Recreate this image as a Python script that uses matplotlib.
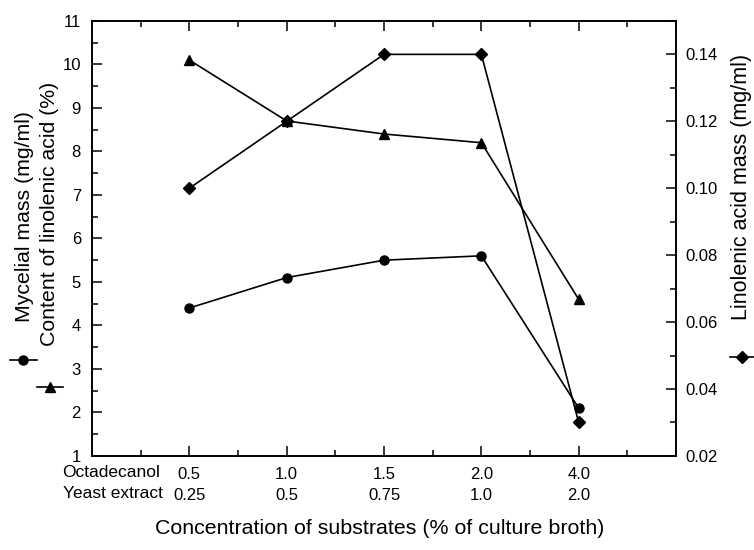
import matplotlib
matplotlib.use("Agg")
import matplotlib.pyplot as plt
from matplotlib.lines import Line2D
from matplotlib.ticker import MultipleLocator

plt.rcParams["font.family"] = ["Liberation Sans", "DejaVu Sans"]

# values
octadecanol = ["0.5", "1.0", "1.5", "2.0", "4.0"]
yeast_extract = ["0.25", "0.5", "0.75", "1.0", "2.0"]
positions = [1, 2, 3, 4, 5]
mycelial_mass = [4.4, 5.1, 5.5, 5.6, 2.1]
linolenic_content = [10.1, 8.7, 8.4, 8.2, 4.6]
linolenic_mass = [0.100, 0.120, 0.140, 0.140, 0.030]
right_ticks = [0.02, 0.04, 0.06, 0.08, 0.10, 0.12, 0.14]

fig = plt.figure(figsize=(7.54, 5.5), dpi=100)
ax = fig.add_axes([0.122, 0.171, 0.7746, 0.791])
ax2 = ax.twinx()

ax.plot(positions, mycelial_mass, color="black", lw=1.2, marker="o", ms=6.5)
ax.plot(positions, linolenic_content, color="black", lw=1.2, marker="^", ms=7)
ax2.plot(positions, linolenic_mass, color="black", lw=1.2, marker="D", ms=6)

ax.set_xlim(0, 6)
ax.set_ylim(1, 11)
ax2.set_ylim(0.02, 0.15)

ax.set_xticks(positions)
ax.set_xticklabels([a + "\n" + b for a, b in zip(octadecanol, yeast_extract)],
                   linespacing=1.5)
ax.xaxis.set_minor_locator(MultipleLocator(0.5))
ax.yaxis.set_major_locator(MultipleLocator(1))
ax.yaxis.set_minor_locator(MultipleLocator(0.5))
ax2.set_yticks(right_ticks)
ax2.set_yticklabels([f"{t:.2f}" for t in right_ticks])
ax2.yaxis.set_minor_locator(MultipleLocator(0.01))

ax.tick_params(axis="x", which="both", direction="in", top=True, labelsize=12, pad=8)
ax.tick_params(axis="y", which="both", direction="in", labelsize=12, pad=8)
ax.tick_params(which="major", length=7, width=1.1)
ax.tick_params(which="minor", length=4, width=1.1)
ax2.tick_params(axis="y", which="both", direction="in", labelsize=12, pad=7)
ax2.tick_params(which="major", length=7, width=1.1)
ax2.tick_params(which="minor", length=4, width=1.1)
for sp in list(ax.spines.values()) + list(ax2.spines.values()):
    sp.set_linewidth(1.2)

# axis titles
fig.text(0.033, 0.606, "Mycelial mass (mg/ml)", rotation=90, ha="center", va="center", fontsize=15.3)
fig.text(0.066, 0.612, "Content of linolenic acid (%)", rotation=90, ha="center", va="center", fontsize=15.3)
fig.text(0.984, 0.66, "Linolenic acid mass (mg/ml)", rotation=90, ha="center", va="center", fontsize=15.5)
fig.text(0.503, 0.04, "Concentration of substrates (% of culture broth)", ha="center", va="center", fontsize=15.4)
fig.text(0.083, 0.141, "Octadecanol", ha="left", va="center", fontsize=12.5)
fig.text(0.083, 0.103, "Yeast extract", ha="left", va="center", fontsize=12.5)

# marker keys next to axis titles
fig.add_artist(Line2D([0.013, 0.049], [0.345, 0.345], color="black", lw=1.2))
fig.add_artist(Line2D([0.031], [0.345], color="black", marker="o", ms=6.5, ls="none"))
fig.add_artist(Line2D([0.049, 0.084], [0.297, 0.297], color="black", lw=1.2))
fig.add_artist(Line2D([0.066], [0.297], color="black", marker="^", ms=7, ls="none"))
fig.add_artist(Line2D([0.968, 1.0], [0.351, 0.351], color="black", lw=1.2))
fig.add_artist(Line2D([0.984], [0.351], color="black", marker="D", ms=6, ls="none"))

fig.savefig("out.png", dpi=100)
